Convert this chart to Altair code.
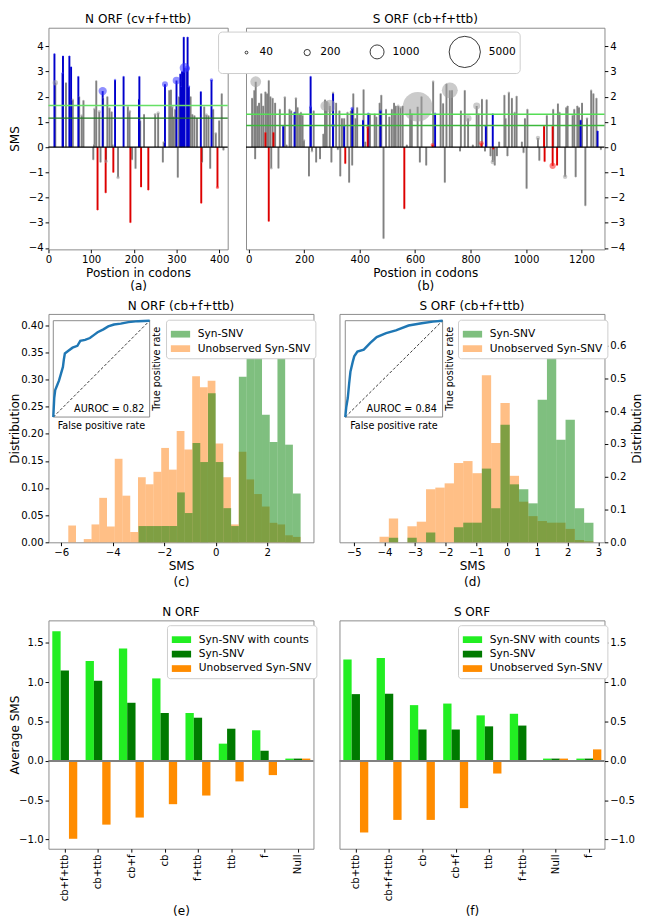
import altair as alt
import pandas as pd

FONT = "DejaVu Sans"
TICK_FS = 10.5
TITLE_FS = 12.5

# ---------------- (a) N ORF (cv+f+ttb) : (position, SMS, count) ----------------
a_blue = [(14, 3.70, 10), (33, 2.93, 25), (34, 3.61, 10), (49, 3.61, 10), (53, 3.18, 10),
          (70, 2.80, 10), (127, 2.22, 350), (156, 2.66, 30), (176, 2.80, 10), (212, 1.90, 10),
          (213, 2.80, 10), (273, 2.49, 180), (300, 2.64, 300), (309, 2.90, 10), (311, 2.40, 10),
          (313, 3.00, 10), (317, 4.36, 10), (319, 3.14, 500), (325, 3.12, 150), (326, 4.36, 10),
          (329, 2.40, 30), (357, 2.20, 10), (382, 2.66, 60)]
a_red = [(115, -2.49, 10), (134, -1.81, 10), (152, -1.00, 10), (192, -2.99, 10), (217, -1.58, 10),
         (234, -1.70, 10), (358, -2.22, 10), (396, -1.60, 50)]
a_gray = [(16, 2.55, 150), (41, 2.55, 10), (57, 1.88, 30), (72, 2.00, 10), (78, 1.25, 40), (82, 1.85, 10),
          (105, -0.50, 10), (107, 0.10, 10), (108, 1.52, 40), (112, 2.63, 10), (119, 1.40, 60),
          (122, -0.60, 10), (128, 1.95, 10), (135, -0.56, 60), (138, 2.00, 10), (143, 1.55, 20),
          (148, 1.40, 10), (150, 0.10, 10), (163, -1.20, 60), (186, 1.60, 30), (190, 1.42, 50),
          (196, -0.50, 10), (204, -0.85, 10), (215, 1.05, 10), (224, 1.30, 10), (250, 1.30, 40),
          (257, 1.35, 60), (268, -0.60, 10), (270, 0.20, 30), (283, 2.25, 10), (287, 2.27, 10),
          (290, 1.60, 40), (293, 1.20, 10), (297, 1.50, 10), (303, -1.20, 10), (306, 2.00, 10),
          (333, 2.00, 10), (337, 1.30, 10), (342, 1.25, 10), (348, 1.15, 10), (360, -0.60, 10),
          (365, 1.60, 10), (370, 1.28, 50), (375, 1.25, 10), (379, -0.85, 10), (386, 1.50, 10),
          (392, 0.55, 30), (400, 1.05, 10), (406, 2.12, 10), (410, -0.12, 10)]
a_thresholds = [1.65, 1.15]
a_thr_colors = ["#66e066", "#1f7a1f"]

# ---------------- (b) S ORF (cb+f+ttb) ----------------
b_blue = [(124, 0.83, 10), (165, 1.38, 10), (223, 2.80, 10), (223, 1.59, 40), (304, 2.12, 10),
          (304, 0.86, 80), (344, 0.83, 30), (373, 1.53, 60), (412, 1.07, 10), (431, 1.32, 30),
          (475, 1.44, 30), (672, 1.32, 30), (855, 0.83, 30), (880, 1.32, 10), (1197, 1.07, 10),
          (1258, 0.64, 10)]
b_red = [(60, 0.58, 10), (72, -2.94, 10), (89, 0.58, 10), (348, -0.65, 10), (429, 0.79, 40),
         (561, -2.44, 10), (663, 0.09, 80), (839, 0.15, 120), (882, -0.08, 10), (1065, 0.83, 10),
         (1067, -0.57, 10), (1096, 0.83, 10), (1096, -0.74, 200), (1112, -0.72, 10)]
b_gray = [(12, 1.94, 10), (20, 2.25, 10), (23, -0.47, 10), (25, 2.59, 600), (31, 1.63, 10), (37, 1.75, 10),
          (45, 2.12, 10), (52, 1.63, 10), (60, 2.19, 10), (66, 2.12, 10), (72, 2.64, 10), (78, 2.00, 10),
          (81, -0.84, 30), (86, 1.94, 10), (95, 1.75, 10), (107, -0.84, 10), (112, 1.50, 10),
          (130, 1.98, 30), (136, 0.09, 10), (147, 1.50, 10), (153, 1.44, 10), (170, 1.94, 30),
          (176, 1.57, 10), (182, 1.32, 10), (188, 1.38, 10), (194, 1.26, 10), (199, 0.27, 30),
          (217, -1.15, 10), (228, -0.16, 30), (234, 1.44, 10), (243, -0.60, 10), (257, -0.47, 10),
          (269, 0.52, 10), (275, 1.88, 10), (276, 1.63, 500), (281, 1.81, 10), (292, 1.63, 800),
          (298, -0.60, 10), (304, 2.16, 30), (315, 1.75, 10), (321, -0.10, 10), (327, 1.44, 10),
          (330, -1.15, 10), (336, 1.14, 10), (344, 1.14, 10), (356, 1.38, 10), (362, -1.40, 10),
          (368, 1.44, 10), (373, -0.72, 10), (377, 2.12, 10), (385, 1.14, 10), (391, 1.57, 10),
          (414, 2.28, 10), (420, 0.21, 10), (437, 1.32, 10), (454, 1.32, 10), (460, 1.20, 10),
          (472, 1.75, 10), (478, 2.06, 10), (486, -3.62, 10), (495, 1.50, 10), (507, 1.20, 10),
          (516, 1.50, 10), (524, 1.75, 10), (530, 1.63, 10), (539, 1.63, 40), (547, 1.57, 40),
          (555, 1.63, 10), (570, 0.09, 10), (582, 1.50, 10), (588, 1.32, 10), (609, 1.60, 4500),
          (617, -0.60, 10), (623, 2.00, 10), (640, -0.72, 10), (665, 2.60, 30), (692, 2.12, 10),
          (701, 1.73, 10), (707, -1.40, 10), (713, 2.50, 10), (725, 2.25, 1300), (733, 2.25, 10),
          (762, -0.16, 10), (765, 1.44, 10), (779, 2.25, 10), (791, 1.14, 250), (808, 0.09, 10),
          (822, 1.63, 250), (829, 1.32, 10), (841, 1.90, 10), (852, -0.16, 10), (858, 1.88, 10),
          (872, -0.35, 10), (880, -0.59, 100), (887, -0.72, 10), (895, -0.35, 10), (903, 0.21, 10),
          (922, 2.06, 10), (926, 1.14, 10), (933, -0.35, 10), (938, 2.16, 30), (949, 1.94, 10),
          (959, 1.38, 10), (966, 2.02, 10), (985, 0.21, 10), (991, -0.22, 10), (996, 1.14, 10),
          (1002, -1.64, 10), (1005, 1.50, 10), (1043, 0.36, 100), (1048, -0.53, 10), (1075, 1.26, 10),
          (1098, 1.50, 10), (1115, 1.72, 10), (1121, 1.38, 10), (1141, -1.17, 100), (1145, 1.57, 10),
          (1150, 1.63, 10), (1168, 1.26, 10), (1174, 1.50, 10), (1179, -1.18, 10), (1185, 1.63, 10),
          (1191, 1.57, 10), (1202, 1.75, 10), (1214, -2.32, 10), (1220, 1.14, 30), (1235, 2.25, 20),
          (1243, 2.12, 10), (1254, 1.94, 10), (1270, -0.10, 10)]
b_thresholds = [1.30, 0.86]
b_thr_colors = ["#55dd55", "#3cb83c"]
size_legend_values = [40, 200, 1000, 5000]
stem_yticks = [-4, -3, -2, -1, 0, 1, 2, 3, 4]

# ---------------- (c)/(d) histograms ----------------
series_names = ["Syn-SNV", "Unobserved Syn-SNV"]
c_orange_start, c_orange_width = -5.73, 0.301
c_orange = [0.031, 0.0, 0.006, 0.033, 0.082, 0.029, 0.154, 0.086, 0.019, 0.120, 0.107, 0.130, 0.174,
            0.134, 0.205, 0.171, 0.306, 0.286, 0.298, 0.182, 0.120, 0.033, 0.167, 0.116, 0.089, 0.066,
            0.036, 0.033, 0.013, 0.010]
c_green_start, c_green_width = -3.0, 0.3
c_green = [0.03, 0.03, 0.03, 0.03, 0.03, 0.092, 0.054, 0.183, 0.148, 0.275, 0.148, 0.063, 0.03, 0.305,
           0.34, 0.40, 0.235, 0.185, 0.40, 0.18, 0.09]
c_roc_fpr = [0, 0.005, 0.01, 0.02, 0.04, 0.06, 0.08, 0.10, 0.11, 0.12, 0.16, 0.20, 0.25, 0.28, 0.33,
             0.38, 0.42, 0.46, 0.52, 0.57, 0.63, 0.70, 0.78, 0.88, 1.0]
c_roc_tpr = [0, 0.10, 0.20, 0.28, 0.33, 0.38, 0.45, 0.52, 0.60, 0.66, 0.69, 0.72, 0.74, 0.79, 0.80,
             0.82, 0.85, 0.88, 0.91, 0.94, 0.96, 0.97, 0.985, 0.995, 1.0]
c_auroc = "AUROC = 0.82"
c_xticks = [-6, -4, -2, 0, 2]
c_yticks = [0.0, 0.05, 0.10, 0.15, 0.20, 0.25, 0.30, 0.35, 0.40]

d_start, d_width = -4.16, 0.3043
d_orange = [0.017, 0.073, 0.0, 0.049, 0.063, 0.162, 0.167, 0.180, 0.242, 0.248, 0.211, 0.510, 0.303,
            0.425, 0.203, 0.124, 0.080, 0.065, 0.060, 0.060, 0.041, 0.007, 0.003]
d_green = [0.0, 0.014, 0.0, 0.014, 0.0, 0.030, 0.0, 0.0, 0.046, 0.060, 0.060, 0.225, 0.104, 0.359,
           0.177, 0.162, 0.119, 0.435, 0.660, 0.313, 0.374, 0.104, 0.060]
d_roc_fpr = [0, 0.01, 0.026, 0.04, 0.053, 0.076, 0.092, 0.125, 0.19, 0.257, 0.323, 0.42, 0.52, 0.65,
             0.785, 0.9, 1.0]
d_roc_tpr = [0, 0.10, 0.20, 0.35, 0.47, 0.57, 0.63, 0.68, 0.70, 0.77, 0.83, 0.87, 0.90, 0.95, 0.973,
             0.99, 1.0]
d_auroc = "AUROC = 0.84"
d_xticks = [-5, -4, -3, -2, -1, 0, 1, 2, 3]
d_yticks = [0.0, 0.1, 0.2, 0.3, 0.4, 0.5, 0.6]

# ---------------- (e)/(f) grouped bars ----------------
bar_series = ["Syn-SNV with counts", "Syn-SNV", "Unobserved Syn-SNV"]
bar_colors = ["#22ee22", "#007a00", "#ff8c00"]
e_cats = ["cb+f+ttb", "cb+ttb", "cb+f", "cb", "f+ttb", "ttb", "f", "Null"]
e_counts = [1.65, 1.27, 1.43, 1.05, 0.61, 0.22, 0.39, 0.03]
e_syn = [1.15, 1.02, 0.74, 0.61, 0.55, 0.41, 0.13, 0.03]
e_unobs = [-0.99, -0.81, -0.72, -0.55, -0.44, -0.26, -0.18, 0.03]
f_cats = ["cb+ttb", "cb+f+ttb", "cb", "cb+f", "ttb", "f+ttb", "Null", "f"]
f_counts = [1.29, 1.31, 0.71, 0.73, 0.58, 0.60, 0.03, 0.03]
f_syn = [0.85, 0.855, 0.40, 0.40, 0.44, 0.45, 0.03, 0.03]
f_unobs = [-0.91, -0.75, -0.75, -0.60, -0.16, 0.0, 0.03, 0.147]
bar_yticks = [-1.0, -0.5, 0.0, 0.5, 1.0, 1.5]

STEM_COL = {"g": "#808080", "b": "#0000cc", "r": "#dd0000"}
DOT_COL = {"g": "#a0a0a0", "b": "#3333ff", "r": "#ff2222"}

EXT = 27  # fixed left-axis extent
PATCH = "M-1,-0.35H1V0.35H-1Z"
TC = 50   # tick count high enough that explicit tick values are never thinned


def stem_df(gray, blue, red):
    rows = []
    for cls, lst in (("g", gray), ("b", blue), ("r", red)):
        for p, s, c in lst:
            rows.append({"pos": p, "sms": s, "cnt": c, "stem": STEM_COL[cls], "dot": DOT_COL[cls]})
    return pd.DataFrame(rows)


def stem_panel(df, xdom, xvals, width, height, y_axis, x_title, thr, thr_cols, size_legend, title):
    size_scale = alt.Scale(domain=[0, 5000], range=[0, 1050])
    yscale = alt.Scale(domain=[-4.05, 4.73], nice=False, zero=False)
    xenc = alt.X("pos:Q", scale=alt.Scale(domain=xdom, nice=False, zero=False),
                 axis=alt.Axis(values=xvals, tickCount=TC, title=x_title, titleLineHeight=14,
                               titlePadding=2, format="d", labelOverlap=False))
    yenc = alt.Y("sms:Q", scale=yscale, axis=y_axis)
    base = alt.Chart(df)
    rules = base.mark_rule(strokeWidth=2).encode(
        x=xenc, y=yenc, y2=alt.datum(0), color=alt.Color("stem:N", scale=None))
    dots = base.mark_circle(opacity=0.55).encode(
        x="pos:Q", y="sms:Q",
        size=alt.Size("cnt:Q", scale=size_scale, legend=size_legend),
        color=alt.Color("dot:N", scale=None))
    thdf = pd.DataFrame({"sms": thr, "col": thr_cols})
    ths = alt.Chart(thdf).mark_rule(strokeWidth=1.5).encode(
        y="sms:Q", color=alt.Color("col:N", scale=None))
    zero = alt.Chart(pd.DataFrame({"sms": [0.0]})).mark_rule(color="black", strokeWidth=1.2).encode(y="sms:Q")
    return alt.layer(rules, dots, ths, zero).properties(width=width, height=height, title=title)


def bins_df(start, width, heights, series):
    return pd.DataFrame({
        "x1": [start + width * k for k in range(len(heights))],
        "x2": [start + width * (k + 1) for k in range(len(heights))],
        "h": heights,
        "series": [series] * len(heights),
    })


def patch_legend(legend_x, legend_y, opacity):
    return alt.Legend(title=None, orient="none", legendX=legend_x, legendY=legend_y,
                      symbolType=PATCH, symbolSize=400, symbolOpacity=opacity, symbolStrokeWidth=0,
                      fillColor="white", strokeColor="#cccccc", padding=5, cornerRadius=3,
                      labelFontSize=11, rowPadding=0, labelOffset=8)


def hist_panel(o_start, o_w, o_h, g_start, g_w, g_h, xdom, xticks, ydom, yticks, yfmt, y_axis_kw,
               legend_x, inset_x, fpr, tpr, auroc, width, height, title, x_title):
    color = alt.Color("series:N",
                      scale=alt.Scale(domain=series_names, range=["#008000", "#ff7f0e"]),
                      legend=patch_legend(legend_x, 6, 0.5))
    xenc = alt.X("x1:Q", scale=alt.Scale(domain=xdom, nice=False, zero=False),
                 axis=alt.Axis(values=xticks, tickCount=TC, format="d", title=x_title, titleLineHeight=17,
                               titlePadding=2, labelOverlap=False))
    yenc = alt.Y("h:Q", scale=alt.Scale(domain=ydom, nice=False, zero=False),
                 axis=alt.Axis(values=yticks, tickCount=TC, format=yfmt, labelOverlap=False, **y_axis_kw))
    odf = bins_df(o_start, o_w, o_h, series_names[1])
    gdf = bins_df(g_start, g_w, g_h, series_names[0])
    orange = alt.Chart(odf).mark_rect(opacity=0.5).encode(x=xenc, x2="x2:Q", y=yenc, y2=alt.datum(0), color=color)
    green = alt.Chart(gdf).mark_rect(opacity=0.5).encode(x="x1:Q", x2="x2:Q", y="h:Q", y2=alt.datum(0), color=color)
    hist = alt.layer(orange, green)

    ixs = alt.Scale(domain=[0, 1], range=inset_x)
    iys = alt.Scale(domain=[0, 1], range=[107, 7])
    ix = lambda f: alt.X(f, scale=ixs, axis=None)
    iy = lambda f: alt.Y(f, scale=iys, axis=None)
    frame = alt.Chart(pd.DataFrame({"f0": [0.0], "f1": [1.0]})).mark_rect(
        fill="white", stroke="#888888", strokeWidth=1).encode(
        x=ix("f0:Q"), x2="f1:Q", y=iy("f0:Q"), y2="f1:Q")
    diag = alt.Chart(pd.DataFrame({"fpr": [0.0, 1.0], "tpr": [0.0, 1.0]})).mark_line(
        color="black", strokeWidth=0.8, strokeDash=[3, 2]).encode(x=ix("fpr:Q"), y=iy("tpr:Q"))
    roc = alt.Chart(pd.DataFrame({"fpr": fpr, "tpr": tpr})).mark_line(
        color="#1f77b4", strokeWidth=2.5).encode(x=ix("fpr:Q"), y=iy("tpr:Q"))
    t_auc = alt.Chart(pd.DataFrame({"fpr": [0.58], "tpr": [0.08], "t": [auroc]})).mark_text(
        fontSize=10, font=FONT).encode(x=ix("fpr:Q"), y=iy("tpr:Q"), text="t:N")
    t_fpr = alt.Chart(pd.DataFrame({"fpr": [0.5], "tpr": [-0.09], "t": ["False positive rate"]})).mark_text(
        fontSize=10, font=FONT).encode(x=ix("fpr:Q"), y=iy("tpr:Q"), text="t:N")
    t_tpr = alt.Chart(pd.DataFrame({"fpr": [1.08], "tpr": [0.5], "t": ["True positive rate"]})).mark_text(
        fontSize=10, font=FONT, angle=270).encode(x=ix("fpr:Q"), y=iy("tpr:Q"), text="t:N")
    inset = alt.layer(frame, diag, roc, t_auc, t_fpr, t_tpr)
    return alt.layer(hist, inset).resolve_scale(x="independent", y="independent").properties(
        width=width, height=height, title=title)


def bar_panel(cats, counts, syn, unobs, y_axis_kw, legend_x, width, height, title, x_title):
    rows = []
    for s_i, (name, vals) in enumerate(zip(bar_series, (counts, syn, unobs))):
        off = (s_i - 1) * 0.25
        for i, v in enumerate(vals):
            rows.append({"x1": i + off - 0.125, "x2": i + off + 0.125, "v": v, "series": name})
    df = pd.DataFrame(rows)
    label_expr = "[" + ",".join("'%s'" % c for c in cats) + "][datum.value]"
    xenc = alt.X("x1:Q", scale=alt.Scale(domain=[-0.49, 7.47], nice=False, zero=False),
                 axis=alt.Axis(values=list(range(len(cats))), tickCount=TC, labelExpr=label_expr,
                               labelAngle=270, title=x_title, titlePadding=4, labelOverlap=False))
    yenc = alt.Y("v:Q", scale=alt.Scale(domain=[-1.117, 1.788], nice=False, zero=False),
                 axis=alt.Axis(values=bar_yticks, tickCount=TC, format=".1f", labelOverlap=False, **y_axis_kw))
    color = alt.Color("series:N", scale=alt.Scale(domain=bar_series, range=bar_colors),
                      legend=patch_legend(legend_x, 5, 1))
    bars = alt.Chart(df).mark_rect().encode(x=xenc, x2="x2:Q", y=yenc, y2=alt.datum(0), color=color)
    zero = alt.Chart(pd.DataFrame({"v": [0.0]})).mark_rule(color="#808080", strokeWidth=2).encode(y="v:Q")
    return alt.layer(bars, zero).properties(width=width, height=height, title=title)


left_kw = dict(minExtent=EXT, maxExtent=EXT, titlePadding=1)

pa = stem_panel(stem_df(a_gray, a_blue, a_red), [0, 420], [0, 100, 200, 300, 400], 186, 230,
                alt.Axis(values=stem_yticks, tickCount=TC, format="d", title="SMS", labelOverlap=False,
                         **left_kw),
                ["Postion in codons", "(a)"], a_thresholds, a_thr_colors, None, "N ORF (cv+f+ttb)")
size_leg = alt.Legend(values=size_legend_values, format="d", orient="none", legendX=-29, legendY=4,
                      direction="horizontal", title=None, symbolFillColor="white",
                      symbolStrokeColor="black", symbolStrokeWidth=0.8, symbolOpacity=1,
                      symbolOffset=20, labelOffset=8, columnPadding=10,
                      fillColor="white", strokeColor="#cccccc", padding=4, cornerRadius=4,
                      labelFontSize=11)
pb = stem_panel(stem_df(b_gray, b_blue, b_red), [-10, 1283], [0, 200, 400, 600, 800, 1000, 1200], 372, 230,
                alt.Axis(values=stem_yticks, tickCount=TC, format="d", title=None, orient="right",
                         labelOverlap=False),
                ["Postion in codons", "(b)"], b_thresholds, b_thr_colors, size_leg, "S ORF (cb+f+ttb)")

pc = hist_panel(c_orange_start, c_orange_width, c_orange, c_green_start, c_green_width, c_green,
                [-6.5, 3.8], c_xticks, [0, 0.421], c_yticks, ".2f",
                dict(title="Distribution", **left_kw), 122, [5, 105], c_roc_fpr, c_roc_tpr, c_auroc,
                275, 237, "N ORF (cb+f+ttb)", ["SMS", "(c)"])
pd_ = hist_panel(d_start, d_width, d_orange, d_start, d_width, d_green,
                 [-5.47, 3.2], d_xticks, [0, 0.697], d_yticks, ".1f",
                 dict(title="Distribution", orient="right", titleAngle=270, titleBaseline="top", titlePadding=5),
                 123, [6, 107], d_roc_fpr, d_roc_tpr, d_auroc,
                 275, 237, "S ORF (cb+f+ttb)", ["SMS", "(d)"])

pe = bar_panel(e_cats, e_counts, e_syn, e_unobs, dict(title="Average SMS", **left_kw), 123, 275, 237,
               "N ORF", "(e)")
pf = bar_panel(f_cats, f_counts, f_syn, f_unobs, dict(title=None, orient="right"), 123, 275, 237,
               "S ORF", "(f)")

row1 = alt.hconcat(pa, pb, spacing=19, bounds="flush").resolve_scale(color="independent", size="independent")
row2 = alt.hconcat(pc, pd_, spacing=27, bounds="flush").resolve_scale(color="independent", size="independent")
row3 = alt.hconcat(pe, pf, spacing=27, bounds="flush").resolve_scale(color="independent", size="independent")

top_rows = alt.vconcat(row1, row2, spacing=7).resolve_scale(color="independent", size="independent")

chart = alt.vconcat(top_rows, row3, spacing=18).resolve_scale(
    color="independent", size="independent"
).properties(
    padding={"left": 0, "top": -12, "right": 0, "bottom": 0}
).configure(font=FONT).configure_view(
    stroke="#888888", strokeWidth=1
).configure_axis(
    labelFont=FONT, labelFontSize=TICK_FS, titleFont=FONT, titleFontSize=TITLE_FS,
    titleFontWeight="normal", labelColor="black", titleColor="black", tickColor="black",
    tickSize=3.5, grid=False, domain=False, labelPadding=2, labelFlush=False, labelOverlap=False
).configure_title(
    font=FONT, fontSize=TITLE_FS, fontWeight="normal", offset=2, anchor="middle", color="black"
).configure_legend(
    labelFont=FONT, labelColor="black"
)

chart.save("out.html", embed_options={"renderer": "svg", "actions": False})
